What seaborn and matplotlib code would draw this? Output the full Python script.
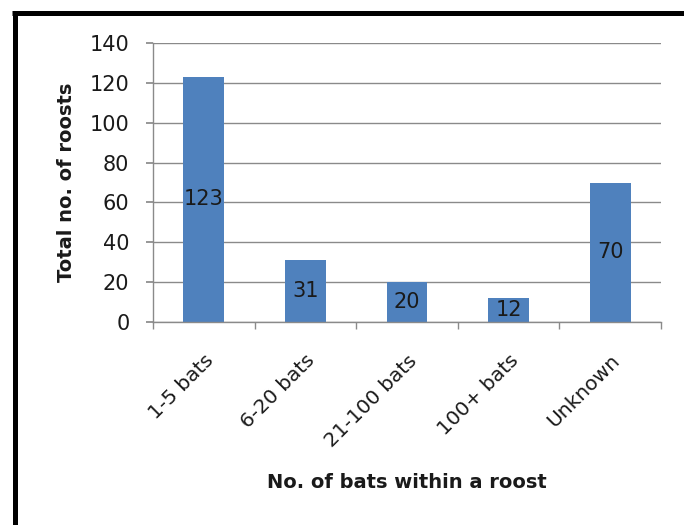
import matplotlib
matplotlib.use("Agg")
import matplotlib.pyplot as plt
import seaborn as sns
import pandas as pd
import numpy as np
from matplotlib.lines import Line2D

categories = ["1-5 bats", "6-20 bats", "21-100 bats", "100+ bats", "Unknown"]
values = [123, 31, 20, 12, 70]
yticks = [0, 20, 40, 60, 80, 100, 120, 140]

sns.set_theme(style="white")
plt.rcParams['font.family'] = ['DejaVu Sans']

df = pd.DataFrame({"cat": categories, "val": values})

fig = plt.figure(figsize=(6.84, 5.25), dpi=100)
ax = fig.add_axes([153/684, 1-322/525, (661-153)/684, (322-43)/525])

sns.barplot(data=df, x="cat", y="val", color="#4F81BD", width=0.4, ax=ax,
            saturation=1, edgecolor="none")

ax.set_ylim(0, 140)
ax.set_xlim(-0.5, len(categories) - 0.5)
ax.set_yticks(yticks)
ax.yaxis.grid(True, color="#8A8A8A", linewidth=1)
ax.set_axisbelow(True)

for s in ["top", "right"]:
    ax.spines[s].set_visible(False)
for s in ["left", "bottom"]:
    ax.spines[s].set_color("#8A8A8A")
    ax.spines[s].set_linewidth(1)

txt = "#1a1a1a"
ax.tick_params(axis="y", which="major", left=True, length=5, color="#8A8A8A",
               labelsize=15, pad=12, labelcolor=txt)
ax.set_xticks(np.arange(len(categories)))
ax.set_xticklabels(categories, rotation=45, ha="right", rotation_mode="anchor",
                   fontsize=14.5, color=txt)
ax.tick_params(axis="x", which="major", length=0, pad=21)
ax.set_xticks(np.arange(-0.5, len(categories), 1), minor=True)
ax.tick_params(axis="x", which="minor", bottom=True, length=5, color="#8A8A8A")

for c in ax.containers:
    ax.bar_label(c, label_type="center", fontsize=15, color=txt)

ax.set_xlabel("No. of bats within a roost", fontsize=14, fontweight="bold",
              color=txt, va="center")
ax.set_ylabel("Total no. of roosts", fontsize=14, fontweight="bold",
              color=txt, va="center", ha="center")
ax.xaxis.set_label_coords((407-153)/508, (322-482)/279)
ax.yaxis.set_label_coords((66-153)/508, (322-182.5)/279)

# thick black frame (top and left)
fig.add_artist(Line2D([12.3/684, 1], [1-12.5/525, 1-12.5/525], color="black",
                      linewidth=3.6, solid_capstyle="butt",
                      transform=fig.transFigure))
fig.add_artist(Line2D([14.8/684, 14.8/684], [0, 1-12.5/525], color="black",
                      linewidth=3.6, solid_capstyle="butt",
                      transform=fig.transFigure))

fig.savefig("out.png", dpi=100)
